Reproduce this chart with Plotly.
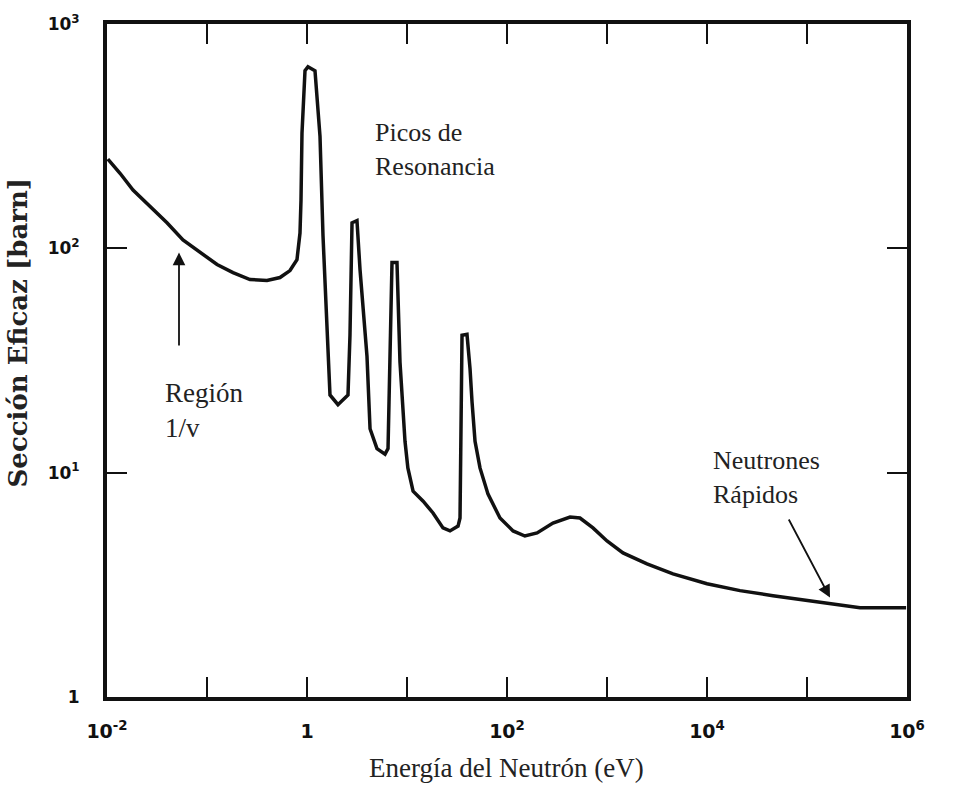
import plotly.graph_objects as go

# Neutron energy (eV) and cross section (barn)
energy_eV = [0.0102, 0.0135, 0.0182, 0.0269, 0.0398, 0.0575, 0.0851, 0.126, 0.182, 0.269,
             0.398, 0.537, 0.676, 0.794, 0.851, 0.871, 0.891, 0.955, 1.023, 1.202,
             1.349, 1.445, 1.698, 1.82, 2.04, 2.57, 2.69, 2.82, 3.16, 3.39,
             3.98, 4.27, 5.01, 6.03, 6.46, 6.61, 7.08, 7.94, 8.13, 8.51,
             9.55, 10.2, 11.5, 14.5, 18.2, 22.9, 26.9, 32.4, 33.9, 35.5,
             39.8, 42.7, 44.7, 47.9, 53.7, 64.6, 85.1, 115, 151, 200,
             288, 427, 537, 724, 1000, 1445, 2512, 4571, 10000, 21380,
             45710, 100000, 214000, 339000, 980000]
sigma_barn = [250, 216, 182, 154.5, 130, 109, 95.7, 84.7, 78.0, 72.6,
              71.9, 74.1, 79.6, 89.1, 117, 164, 326, 619, 645, 619,
              316, 114, 22.2, 21.3, 20.1, 22.2, 41.0, 130, 133, 80.4,
              33.0, 15.7, 12.8, 12.1, 12.8, 20.7, 86.4, 86.4, 57.4, 31.1,
              13.8, 10.5, 8.27, 7.46, 6.61, 5.67, 5.50, 5.78, 6.28, 41.0,
              41.4, 29.0, 20.7, 13.8, 10.5, 8.02, 6.28, 5.50, 5.22, 5.39,
              5.96, 6.34, 6.28, 5.67, 4.96, 4.39, 3.92, 3.54, 3.20, 2.98,
              2.83, 2.69, 2.56, 2.50, 2.50]

x_tickvals = [1e-2, 1e-1, 1, 1e1, 1e2, 1e3, 1e4, 1e5, 1e6]
x_ticktext = ["10<sup>-2</sup>", "", "1", "", "10<sup>2</sup>", "", "10<sup>4</sup>", "", "10<sup>6</sup>"]
y_tickvals = [1, 10, 100, 1000]
y_ticktext = ["1", "10<sup>1</sup>", "10<sup>2</sup>", "10<sup>3</sup>"]

x_title = "Energía del Neutrón (eV)"
y_title = "Sección Eficaz [barn]"

fig = go.Figure()
fig.add_trace(go.Scatter(x=energy_eV, y=sigma_barn, mode="lines",
                         line=dict(color="#111111", width=3.5), showlegend=False))

axis_common = dict(type="log", showgrid=False, zeroline=False, showline=True,
                   linecolor="#111111", linewidth=4, mirror="ticks",
                   ticks="inside", ticklen=20, tickwidth=2, tickcolor="#111111")

fig.update_xaxes(range=[-2, 6], tickvals=x_tickvals, ticktext=x_ticktext,
                 ticklabelstandoff=14,
                 tickfont=dict(family="DejaVu Sans", size=19, color="#111111", weight="bold"),
                 **axis_common)
fig.update_yaxes(range=[0, 3], tickvals=y_tickvals, ticktext=y_ticktext,
                 ticklabelstandoff=20,
                 tickfont=dict(family="DejaVu Sans", size=17, color="#111111", weight="bold"),
                 **axis_common)

serif = "Liberation Serif"
annots = [
    dict(text="Picos de<br>Resonancia", xref="paper", yref="paper", x=0.333, y=0.863,
         xanchor="left", yanchor="top", align="left", showarrow=False,
         font=dict(family=serif, size=26, color="#222")),
    dict(text="Región<br>1/v", xref="paper", yref="paper", x=0.07, y=0.477,
         xanchor="left", yanchor="top", align="left", showarrow=False,
         font=dict(family=serif, size=27, color="#222")),
    dict(text="Neutrones<br>Rápidos", xref="paper", yref="paper", x=0.755, y=0.376,
         xanchor="left", yanchor="top", align="left", showarrow=False,
         font=dict(family=serif, size=26, color="#222")),
    dict(text="", xref="x", yref="y", x=-1.28, y=1.981, axref="x", ayref="y",
         ax=-1.28, ay=1.56, showarrow=True, arrowhead=2, arrowsize=1.4,
         arrowwidth=1.8, arrowcolor="#111", standoff=0),
    dict(text="", xref="x", yref="y", x=5.23, y=0.443, axref="x", ayref="y",
         ax=4.81, ay=0.798, showarrow=True, arrowhead=2, arrowsize=1.4,
         arrowwidth=1.8, arrowcolor="#111", standoff=0),
    dict(text=x_title, xref="paper", yref="paper", x=0.499, y=-0.106,
         xanchor="center", yanchor="middle", showarrow=False,
         font=dict(family=serif, size=27, color="#222")),
    dict(text=y_title, xref="paper", yref="paper", x=-0.111, y=0.542,
         xanchor="center", yanchor="middle", showarrow=False, textangle=-90,
         font=dict(family="DejaVu Serif", size=26, color="#222", weight="bold")),
]

fig.update_layout(width=953, height=787, margin=dict(l=107, r=46, t=20, b=90),
                  plot_bgcolor="white", paper_bgcolor="white", annotations=annots)

fig.write_html("out.html")
